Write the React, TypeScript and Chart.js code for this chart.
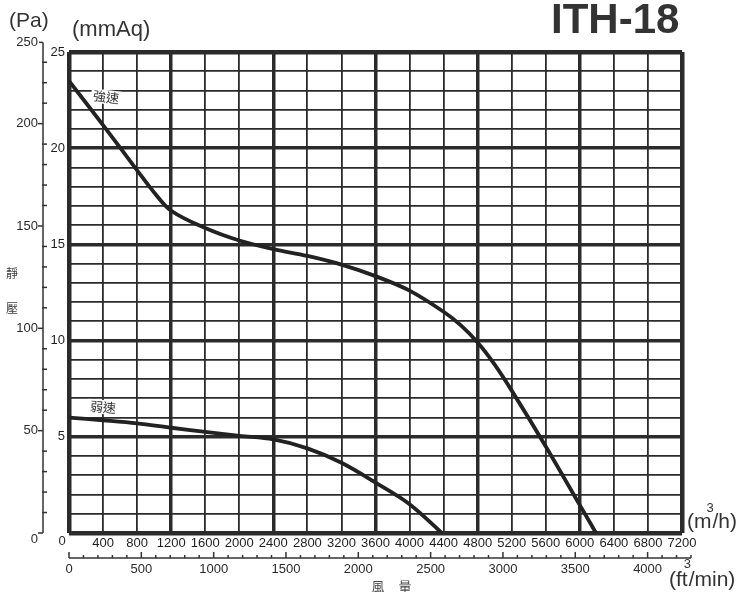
import React, { useEffect, useRef } from 'react';
import { Chart, registerables } from 'chart.js';

Chart.register(...registerables);

// ---- data (air flow m³/h vs static pressure mmAq) ----
const flowStrong = [0, 400, 800, 1000, 1200, 1600, 2000, 2400, 2800, 3200, 3600, 4000, 4400, 4600, 4800, 5000, 5200, 5600, 6000, 6190];
const pressStrong = [23.5, 21.2, 18.85, 17.7, 16.75, 15.85, 15.2, 14.75, 14.4, 13.95, 13.35, 12.6, 11.5, 10.8, 9.9, 8.75, 7.4, 4.5, 1.45, 0];

const flowWeak = [0, 400, 800, 1200, 1600, 2000, 2400, 2800, 3200, 3600, 4000, 4380];
const pressWeak = [6.0, 5.86, 5.7, 5.47, 5.26, 5.05, 4.86, 4.4, 3.65, 2.62, 1.5, 0];

const seriesNames = ['強速', '弱速'];

// ---- axis labels ----
const xMin = 0, xMax = 7200, xStep = 400, xMajor = 1200;
const yMin = 0, yMax = 25, yStep = 1, yMajor = 5;
const paLabels = [0, 50, 100, 150, 200];
const paMinorMax = 230;
const paTopLabel = 250;
const PA_PER_MMAQ = 9.4; // as printed on the reference scale
const cfmLabels = [0, 500, 1000, 1500, 2000, 2500, 3000, 3500, 4000];
const cfmMinorMax = 4300;
const M3H_PER_CFM = 1.699;

const FONT = '"Liberation Sans", Arial, sans-serif';
const CJK = '"Noto Sans CJK TC", "Noto Sans CJK JP", sans-serif';
const INK = '#222';

const decor = {
  id: 'decor',
  afterDraw(chart: any) {
    const ctx = chart.ctx as CanvasRenderingContext2D;
    const xs = chart.scales.x;
    const ys = chart.scales.y;
    ctx.save();
    ctx.fillStyle = '#2a2a2a';
    ctx.strokeStyle = '#333';

    // ---- Pa axis ----
    const axX = 43;
    const yTop = ys.getPixelForValue(25.5);
    const yBot = ys.getPixelForValue(0);
    ctx.lineWidth = 1.5;
    ctx.beginPath();
    ctx.moveTo(axX, yTop);
    ctx.lineTo(axX, yBot);
    ctx.stroke();
    for (let pa = 0; pa <= paMinorMax; pa += 10) {
      const py = ys.getPixelForValue(pa / PA_PER_MMAQ);
      const major = pa % 50 === 0;
      ctx.beginPath();
      ctx.moveTo(major ? axX - 5 : axX - 1, py);
      ctx.lineTo(axX + (major ? 0 : 4), py);
      ctx.stroke();
    }
    ctx.beginPath();
    ctx.moveTo(axX - 4, yTop);
    ctx.lineTo(axX, yTop);
    ctx.stroke();
    ctx.font = `13px ${FONT}`;
    ctx.textAlign = 'right';
    ctx.textBaseline = 'middle';
    paLabels.forEach((pa) => {
      const py = ys.getPixelForValue(pa / PA_PER_MMAQ);
      ctx.fillText(String(pa), axX - 5, pa === 0 ? py + 6 : py);
    });
    ctx.fillText(String(paTopLabel), axX - 5, yTop);

    // origin "0"
    ctx.textAlign = 'center';
    ctx.fillText('0', 62, 541);

    // ---- cfm axis ----
    const cy = 558;
    ctx.lineWidth = 1.5;
    ctx.beginPath();
    ctx.moveTo(xs.getPixelForValue(0), cy);
    ctx.lineTo(xs.getPixelForValue(cfmMinorMax * M3H_PER_CFM), cy);
    ctx.stroke();
    for (let c = 0; c <= cfmMinorMax; c += 100) {
      const px = xs.getPixelForValue(c * M3H_PER_CFM);
      const major = c % 500 === 0;
      ctx.beginPath();
      ctx.moveTo(px, cy);
      ctx.lineTo(px, cy - (major ? 6 : 3));
      ctx.stroke();
    }
    ctx.font = `13px ${FONT}`;
    ctx.textAlign = 'center';
    cfmLabels.forEach((c) => {
      ctx.fillText(String(c), xs.getPixelForValue(c * M3H_PER_CFM), 569);
    });

    // ---- unit texts ----
    ctx.fillStyle = '#333';
    ctx.textAlign = 'left';
    ctx.font = `21px ${FONT}`;
    ctx.fillText('(Pa)', 9, 21);
    ctx.font = `22px ${FONT}`;
    ctx.fillText('(mmAq)', 72, 30);

    // (m³/h)
    ctx.font = `21px ${FONT}`;
    ctx.fillText('(m', 687, 522);
    let w = ctx.measureText('(m').width;
    ctx.fillText('/h)', 687 + w + 1, 522);
    ctx.font = `13px ${FONT}`;
    ctx.fillText('3', 687 + w - 5, 508);

    // (ft³/min)
    ctx.font = `21px ${FONT}`;
    ctx.fillText('(ft', 669, 580);
    w = ctx.measureText('(ft').width;
    ctx.fillText('/min)', 669 + w + 1, 580);
    ctx.font = `13px ${FONT}`;
    ctx.fillText('3', 669 + w - 4, 564);

    // title
    ctx.fillStyle = '#333';
    ctx.font = `bold 42px ${FONT}`;
    ctx.textAlign = 'left';
    ctx.fillText('ITH-18', 551, 21);

    // CJK axis titles
    ctx.fillStyle = '#444';
    ctx.font = `12px ${CJK}`;
    ctx.textAlign = 'center';
    ctx.fillText('靜', 12, 273);
    ctx.fillText('壓', 12, 308);
    ctx.font = `13px ${CJK}`;
    ctx.fillText('風', 378, 586);
    ctx.fillText('量', 405, 586);

    // curve labels
    const drawTag = (text: string, cx: number, cyy: number, rot: number) => {
      ctx.save();
      ctx.translate(cx, cyy);
      ctx.rotate(rot);
      ctx.font = `13px ${CJK}`;
      const tw = ctx.measureText(text).width;
      ctx.fillStyle = '#fff';
      ctx.fillRect(-tw / 2 - 2, -7, tw + 4, 14);
      ctx.fillStyle = '#333';
      ctx.textAlign = 'center';
      ctx.textBaseline = 'middle';
      ctx.fillText(text, 0, 0);
      ctx.restore();
    };
    drawTag(seriesNames[0], 106, 97, 0.12);
    drawTag(seriesNames[1], 103, 407, 0.08);

    ctx.restore();
  },
};

export default function App() {
  const ref = useRef<HTMLCanvasElement>(null);
  useEffect(() => {
    const gridW = (edgeMin: number, edgeMax: number, major: number) => (c: any) => {
      const v = c.tick ? c.tick.value : 0;
      if (v === edgeMin || v === edgeMax) return 4.5;
      return v % major === 0 ? 3.5 : 1.8;
    };
    const chart = new Chart(ref.current as HTMLCanvasElement, {
      type: 'line',
      data: {
        datasets: [
          {
            label: seriesNames[0],
            data: flowStrong.map((f, i) => ({ x: f, y: pressStrong[i] })),
            borderColor: INK,
            borderWidth: 3.8,
            pointRadius: 0,
            tension: 0.35,
            fill: false,
          },
          {
            label: seriesNames[1],
            data: flowWeak.map((f, i) => ({ x: f, y: pressWeak[i] })),
            borderColor: INK,
            borderWidth: 3.8,
            pointRadius: 0,
            tension: 0.35,
            fill: false,
          },
        ],
      },
      options: {
        responsive: false,
        animation: false,
        events: [],
        layout: { padding: { left: 0, top: 52, right: 68, bottom: 0 } },
        plugins: { legend: { display: false }, tooltip: { enabled: false } },
        scales: {
          x: {
            type: 'linear',
            min: xMin,
            max: xMax,
            afterFit: (s: any) => { s.height = 59; },
            ticks: {
              stepSize: xStep,
              autoSkip: false,
              maxRotation: 0,
              padding: 3,
              color: '#1e1e1e',
              font: { size: 13, family: FONT },
              callback: (v: any) => (v === 0 ? '' : String(v)),
            },
            grid: { color: '#2b2b2b', lineWidth: gridW(xMin, xMax, xMajor), drawTicks: false },
            border: { display: false },
          },
          y: {
            type: 'linear',
            min: yMin,
            max: yMax,
            afterFit: (s: any) => { s.width = 69; },
            ticks: {
              stepSize: yStep,
              autoSkip: false,
              padding: 4,
              color: '#1e1e1e',
              font: { size: 13, family: FONT },
              callback: (v: any) => (v % yMajor === 0 && v !== 0 ? String(v) : ''),
            },
            grid: { color: '#2b2b2b', lineWidth: gridW(yMin, yMax, yMajor), drawTicks: false },
            border: { display: false },
          },
        },
      } as any,
      plugins: [decor],
    });
    return () => chart.destroy();
  }, []);
  return (
    <div style={{ position: 'absolute', left: 0, top: 0, width: 750, height: 592, background: '#fff' }}>
      <canvas ref={ref} width={750} height={592} style={{ display: 'block' }} />
    </div>
  );
}
